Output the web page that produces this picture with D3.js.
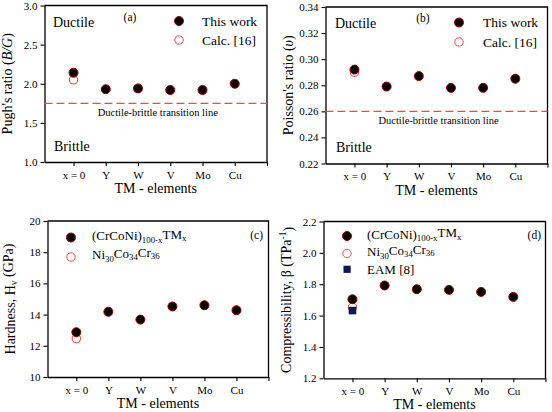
<!DOCTYPE html>
<html><head><meta charset="utf-8">
<script src="https://cdn.jsdelivr.net/npm/d3@7"></script>
<style>body{margin:0;background:#fff}svg{display:block}text{font-family:"Liberation Serif","Times New Roman",Times,serif;fill:#000}</style>
</head><body><svg id="c" width="552" height="412"></svg>
<script>
const categories = ["x = 0","Y","W","V","Mo","Cu"];
const pughThis = [2.14,1.93,1.94,1.92,1.92,2.00];
const pughCalc = [2.05];
const poissonThis = [0.292,0.279,0.287,0.278,0.278,0.285];
const poissonCalc = [0.290];
const hardThis = [12.87,14.18,13.68,14.52,14.60,14.28];
const hardExp = [12.46];
const compThis = [1.704,1.792,1.768,1.764,1.751,1.719];
const compExp = [1.653];
const compEAM = [1.632];
const pughTicks = [1.0,1.5,2.0,2.5,3.0];
const poissonTicks = [0.22,0.24,0.26,0.28,0.30,0.32,0.34];
const hardTicks = [10,12,14,16,18,20];
const compTicks = [1.2,1.4,1.6,1.8,2.0,2.2];
const pughLimit = 1.75, poissonLimit = 0.26;

const svg = d3.select("#c");
const RED = "#f04848";
const FF = "Liberation Serif, Times New Roman, serif";

function panel(o){
  const g = svg.append("g");
  const x = d3.scaleLinear().domain([0.1,7]).range([o.l,o.r]);
  const y = d3.scaleLinear().domain(o.dom).range([o.b,o.t]);
  g.append("path").attr("d",`M${o.l},${o.t}H${o.r}V${o.b}`).attr("fill","none").attr("stroke","#000").attr("stroke-width",1.3);
  const ya = g.append("g").attr("transform",`translate(${o.l},0)`)
    .call(d3.axisLeft(y).tickValues(o.ticks).tickFormat(o.fmt).tickSize(4).tickSizeOuter(0).tickPadding(3));
  const xa = g.append("g").attr("transform",`translate(0,${o.b})`)
    .call(d3.axisBottom(x).tickValues([1,2,3,4,5,6,7]).tickFormat(d=>categories[d-1]||"").tickSize(4).tickSizeOuter(0).tickPadding(5));
  [ya,xa].forEach(a=>{a.attr("font-family",FF);a.select(".domain").attr("stroke-width",1.3);a.selectAll("line").attr("stroke-width",1.1);
    a.selectAll("text").attr("font-size",11);});
  g.append("text").attr("x",(o.l+o.r)/2).attr("y",o.b+31).attr("text-anchor","middle").attr("font-size",14).text("TM - elements");
  const yt = g.append("text").attr("transform",`translate(${o.l-33},${(o.t+o.b)/2}) rotate(-90)`).attr("text-anchor","middle").attr("font-size",14);
  o.ylab(yt);
  return {g,x,y};
}
function dots(p,vals,black){
  p.g.selectAll(null).data(vals).join("circle")
    .attr("cx",(d,i)=>p.x(i+1)).attr("cy",d=>p.y(d)).attr("r",black?4.5:4.2)
    .attr("fill",black?"#000":"none").attr("stroke",black?"#a00000":RED).attr("stroke-width",black?1:1.1);
}
function legendDot(p,cx,cy,black){
  p.g.append("circle").attr("cx",cx).attr("cy",cy).attr("r",black?4.5:4.2)
    .attr("fill",black?"#000":"none").attr("stroke",black?"#a00000":RED).attr("stroke-width",1);
}
function limitLine(p,v,o){
  p.g.append("line").attr("x1",o.l).attr("x2",o.r).attr("y1",p.y(v)).attr("y2",p.y(v))
    .attr("stroke",RED).attr("stroke-width",1.3).attr("stroke-dasharray","8,4");
  p.g.append("text").attr("x",(o.l+o.r)/2+2).attr("y",p.y(v)+13).attr("text-anchor","middle").attr("font-size",10.5).text("Ductile-brittle transition line");
}
function sub(t,parts){
  parts.forEach(([s,k])=>{
    const ts=t.append("tspan").text(s);
    if(k==="sub") ts.attr("font-size","0.68em").attr("dy","0.3em");
    else if(k==="sup") ts.attr("font-size","0.68em").attr("dy","-0.45em");
    else if(k==="back") ts.attr("dy", "-0.3em");
    else if(k==="backsup") ts.attr("dy", "0.45em");
    else if(k==="it") ts.attr("font-style","italic");
  });
}

// (a)
const oa={l:44.5,r:267,t:5.5,b:162,dom:[1,3],ticks:pughTicks,fmt:d3.format(".1f"),
  ylab:t=>sub(t,[["Pugh's ratio (",""],["B/G","it"],[")",""]])};
const pa=panel(oa);
limitLine(pa,pughLimit,oa);
dots(pa,pughCalc,false); dots(pa,pughThis,true);
pa.g.append("text").attr("x",53).attr("y",27).attr("font-size",14).text("Ductile");
pa.g.append("text").attr("x",54).attr("y",151).attr("font-size",14).text("Brittle");
pa.g.append("text").attr("x",130).attr("y",21).attr("text-anchor","middle").attr("font-size",11.5).text("(a)");
legendDot(pa,179,21,true); legendDot(pa,179,40,false);
pa.g.append("text").attr("x",202).attr("y",25.5).attr("font-size",13.5).text("This work");
pa.g.append("text").attr("x",202).attr("y",45).attr("font-size",13.5).text("Calc. [16]");

// (b)
const ob={l:325.5,r:547.5,t:7,b:163.5,dom:[0.22,0.34],ticks:poissonTicks,fmt:d3.format(".2f"),
  ylab:t=>sub(t,[["Poisson's ratio (",""],["υ","it"],[")",""]])};
const pb=panel(ob);
limitLine(pb,poissonLimit,ob);
dots(pb,poissonCalc,false); dots(pb,poissonThis,true);
pb.g.append("text").attr("x",335).attr("y",28).attr("font-size",14).text("Ductile");
pb.g.append("text").attr("x",336).attr("y",152).attr("font-size",14).text("Brittle");
pb.g.append("text").attr("x",423).attr("y",22).attr("text-anchor","middle").attr("font-size",11.5).text("(b)");
legendDot(pb,459,22.5,true); legendDot(pb,459,42,false);
pb.g.append("text").attr("x",483).attr("y",27).attr("font-size",13.5).text("This work");
pb.g.append("text").attr("x",483).attr("y",46.5).attr("font-size",13.5).text("Calc. [16]");

// (c)
const oc={l:47.5,r:268.5,t:221,b:377,dom:[10,20],ticks:hardTicks,fmt:d3.format("d"),
  ylab:t=>sub(t,[["Hardness, H",""],["v","sub"],[" (GPa)","back"]])};
const pc=panel(oc);
dots(pc,hardExp,false); dots(pc,hardThis,true);
legendDot(pc,71,237.5,true); legendDot(pc,71,257,false);
sub(pc.g.append("text").attr("x",92).attr("y",240).attr("font-size",13),[["(CrCoNi)",""],["100-x","sub"],["TM","back"],["x","sub"]]);
sub(pc.g.append("text").attr("x",92).attr("y",259).attr("font-size",13),[["Ni",""],["30","sub"],["Co","back"],["34","sub"],["Cr","back"],["36","sub"]]);
pc.g.append("text").attr("x",263).attr("y",239).attr("text-anchor","end").attr("font-size",11.5).text("(c)");

// (d)
const od={l:323.5,r:545.5,t:221.5,b:378.3,dom:[1.2,2.2],ticks:compTicks,fmt:d3.format(".1f"),
  ylab:t=>sub(t,[["Compressibility, β (TPa",""],["-1","sup"],[")","backsup"]])};
const pd=panel(od);
dots(pd,compExp,false); dots(pd,compThis,true);
pd.g.selectAll(null).data(compEAM).join("rect")
  .attr("x",(d,i)=>pd.x(i+1)-3.8).attr("y",d=>pd.y(d)-3.8).attr("width",7.6).attr("height",7.6).attr("fill","#0d1a4d");
legendDot(pd,347,236,true); legendDot(pd,347,253.5,false);
pd.g.append("rect").attr("x",343.5).attr("y",265.7).attr("width",7.2).attr("height",7.2).attr("fill","#0d1a4d");
sub(pd.g.append("text").attr("x",367).attr("y",238.5).attr("font-size",13),[["(CrCoNi)",""],["100-x","sub"],["TM","back"],["x","sub"]]);
sub(pd.g.append("text").attr("x",367).attr("y",256).attr("font-size",13),[["Ni",""],["30","sub"],["Co","back"],["34","sub"],["Cr","back"],["36","sub"]]);
pd.g.append("text").attr("x",367).attr("y",274).attr("font-size",13).text("EAM [8]");
pd.g.append("text").attr("x",541).attr("y",239).attr("text-anchor","end").attr("font-size",11.5).text("(d)");
</script></body></html>
